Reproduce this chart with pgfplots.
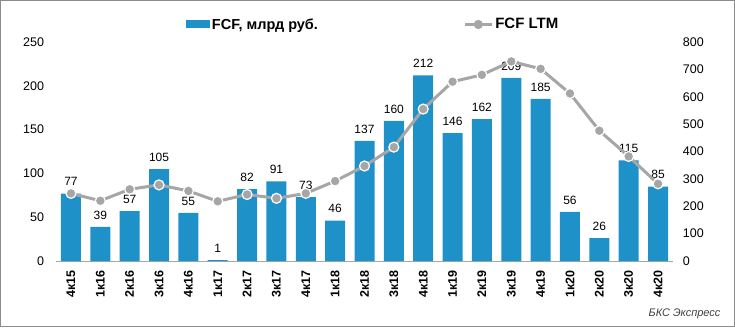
\documentclass[border=0pt]{standalone}
\usepackage{pgfplots}
\pgfplotsset{compat=1.18}
\usepackage{fontspec}
\setmainfont{Liberation Sans}
\definecolor{barblue}{HTML}{1F91C9}
\definecolor{linegray}{HTML}{A6A6A6}
\definecolor{framegray}{HTML}{8C8C8C}
\begin{document}
\begin{tikzpicture}
\useasboundingbox (0,0) rectangle (735pt,327pt);
\draw[framegray, line width=1pt] (0.5pt,0.5pt) rectangle (734.5pt,326.5pt);
\begin{axis}[
  at={(56.3pt,66pt)}, anchor=south west,
  scale only axis, width=616.4pt, height=219pt,
  xmin=-0.5, xmax=20.5, ymin=0, ymax=250,
  clip=false,
  axis x line*=bottom, axis y line*=left,
  x axis line style={draw=gray!70, line width=0.8pt, -},
  y axis line style={draw=none},
  major tick length=0pt,
  xtick={0,...,20},
  xticklabels={4к15,1к16,2к16,3к16,4к16,1к17,2к17,3к17,4к17,1к18,2к18,3к18,4к18,1к19,2к19,3к19,4к19,1к20,2к20,3к20,4к20},
  xticklabel shift=9pt,
  xticklabel style={rotate=90, anchor=east, inner sep=0pt, font=\fontsize{12.5}{14}\selectfont\bfseries},
  ytick={0,50,...,250},
  yticklabel shift=12pt,
  yticklabel style={inner sep=0pt, anchor=east, font=\fontsize{12.5}{14}\selectfont},
  /pgf/number format/assume math mode=true,
  legend style={draw=none, fill=none, at={(0.21,1.08)}, anchor=west, font=\fontsize{14.5}{16}\selectfont\bfseries, inner sep=0pt, legend cell align=left},
]
\addplot[ybar, bar width=20pt, fill=barblue, draw=none,
  nodes near coords, nodes near coords style={font=\fontsize{12}{14}\selectfont, black, inner sep=3pt, yshift=4.5pt},
  legend image code/.code={\fill[barblue] (0pt,-4pt) rectangle (24pt,4pt);}]
coordinates {(0,77)(1,39)(2,57)(3,105)(4,55)(5,1)(6,82)(7,91)(8,73)(9,46)(10,137)(11,160)(12,212)(13,146)(14,162)(15,209)(16,185)(17,56)(18,26)(19,115)(20,85)};
\addlegendentry{FCF, млрд руб.}
\end{axis}
\begin{axis}[
  at={(56.3pt,66pt)}, anchor=south west,
  scale only axis, width=616.4pt, height=219pt,
  xmin=-0.5, xmax=20.5, ymin=0, ymax=800,
  clip=false,
  axis x line=none, axis y line*=right,
  y axis line style={draw=none},
  major tick length=0pt,
  ytick={0,100,...,800},
  yticklabel shift=10pt,
  yticklabel style={inner sep=0pt, anchor=west, font=\fontsize{12.5}{14}\selectfont},
  /pgf/number format/assume math mode=true,
  legend style={draw=none, fill=none, at={(0.66,1.08)}, anchor=west, font=\fontsize{15}{16}\selectfont\bfseries, inner sep=0pt, legend cell align=left},
]
\addplot[linegray, line width=3pt, mark=*, mark size=5pt,
  mark options={fill=linegray, draw=white, line width=1.2pt},
  legend image code/.code={\draw[linegray, line width=3pt] (0pt,0pt) -- (27pt,0pt); \fill[linegray] (13.5pt,0pt) circle (3pt);}]
coordinates {(0,247)(1,220)(2,262)(3,278)(4,256)(5,218)(6,243)(7,229)(8,247)(9,292)(10,347)(11,416)(12,555)(13,655)(14,680)(15,729)(16,702)(17,612)(18,476)(19,382)(20,282)};
\addlegendentry{FCF LTM}
\end{axis}
\node[anchor=east, font=\itshape\fontsize{11}{13}\selectfont, text=black!75] at (724pt,13pt) {БКС Экспресс};
\end{tikzpicture}
\end{document}
